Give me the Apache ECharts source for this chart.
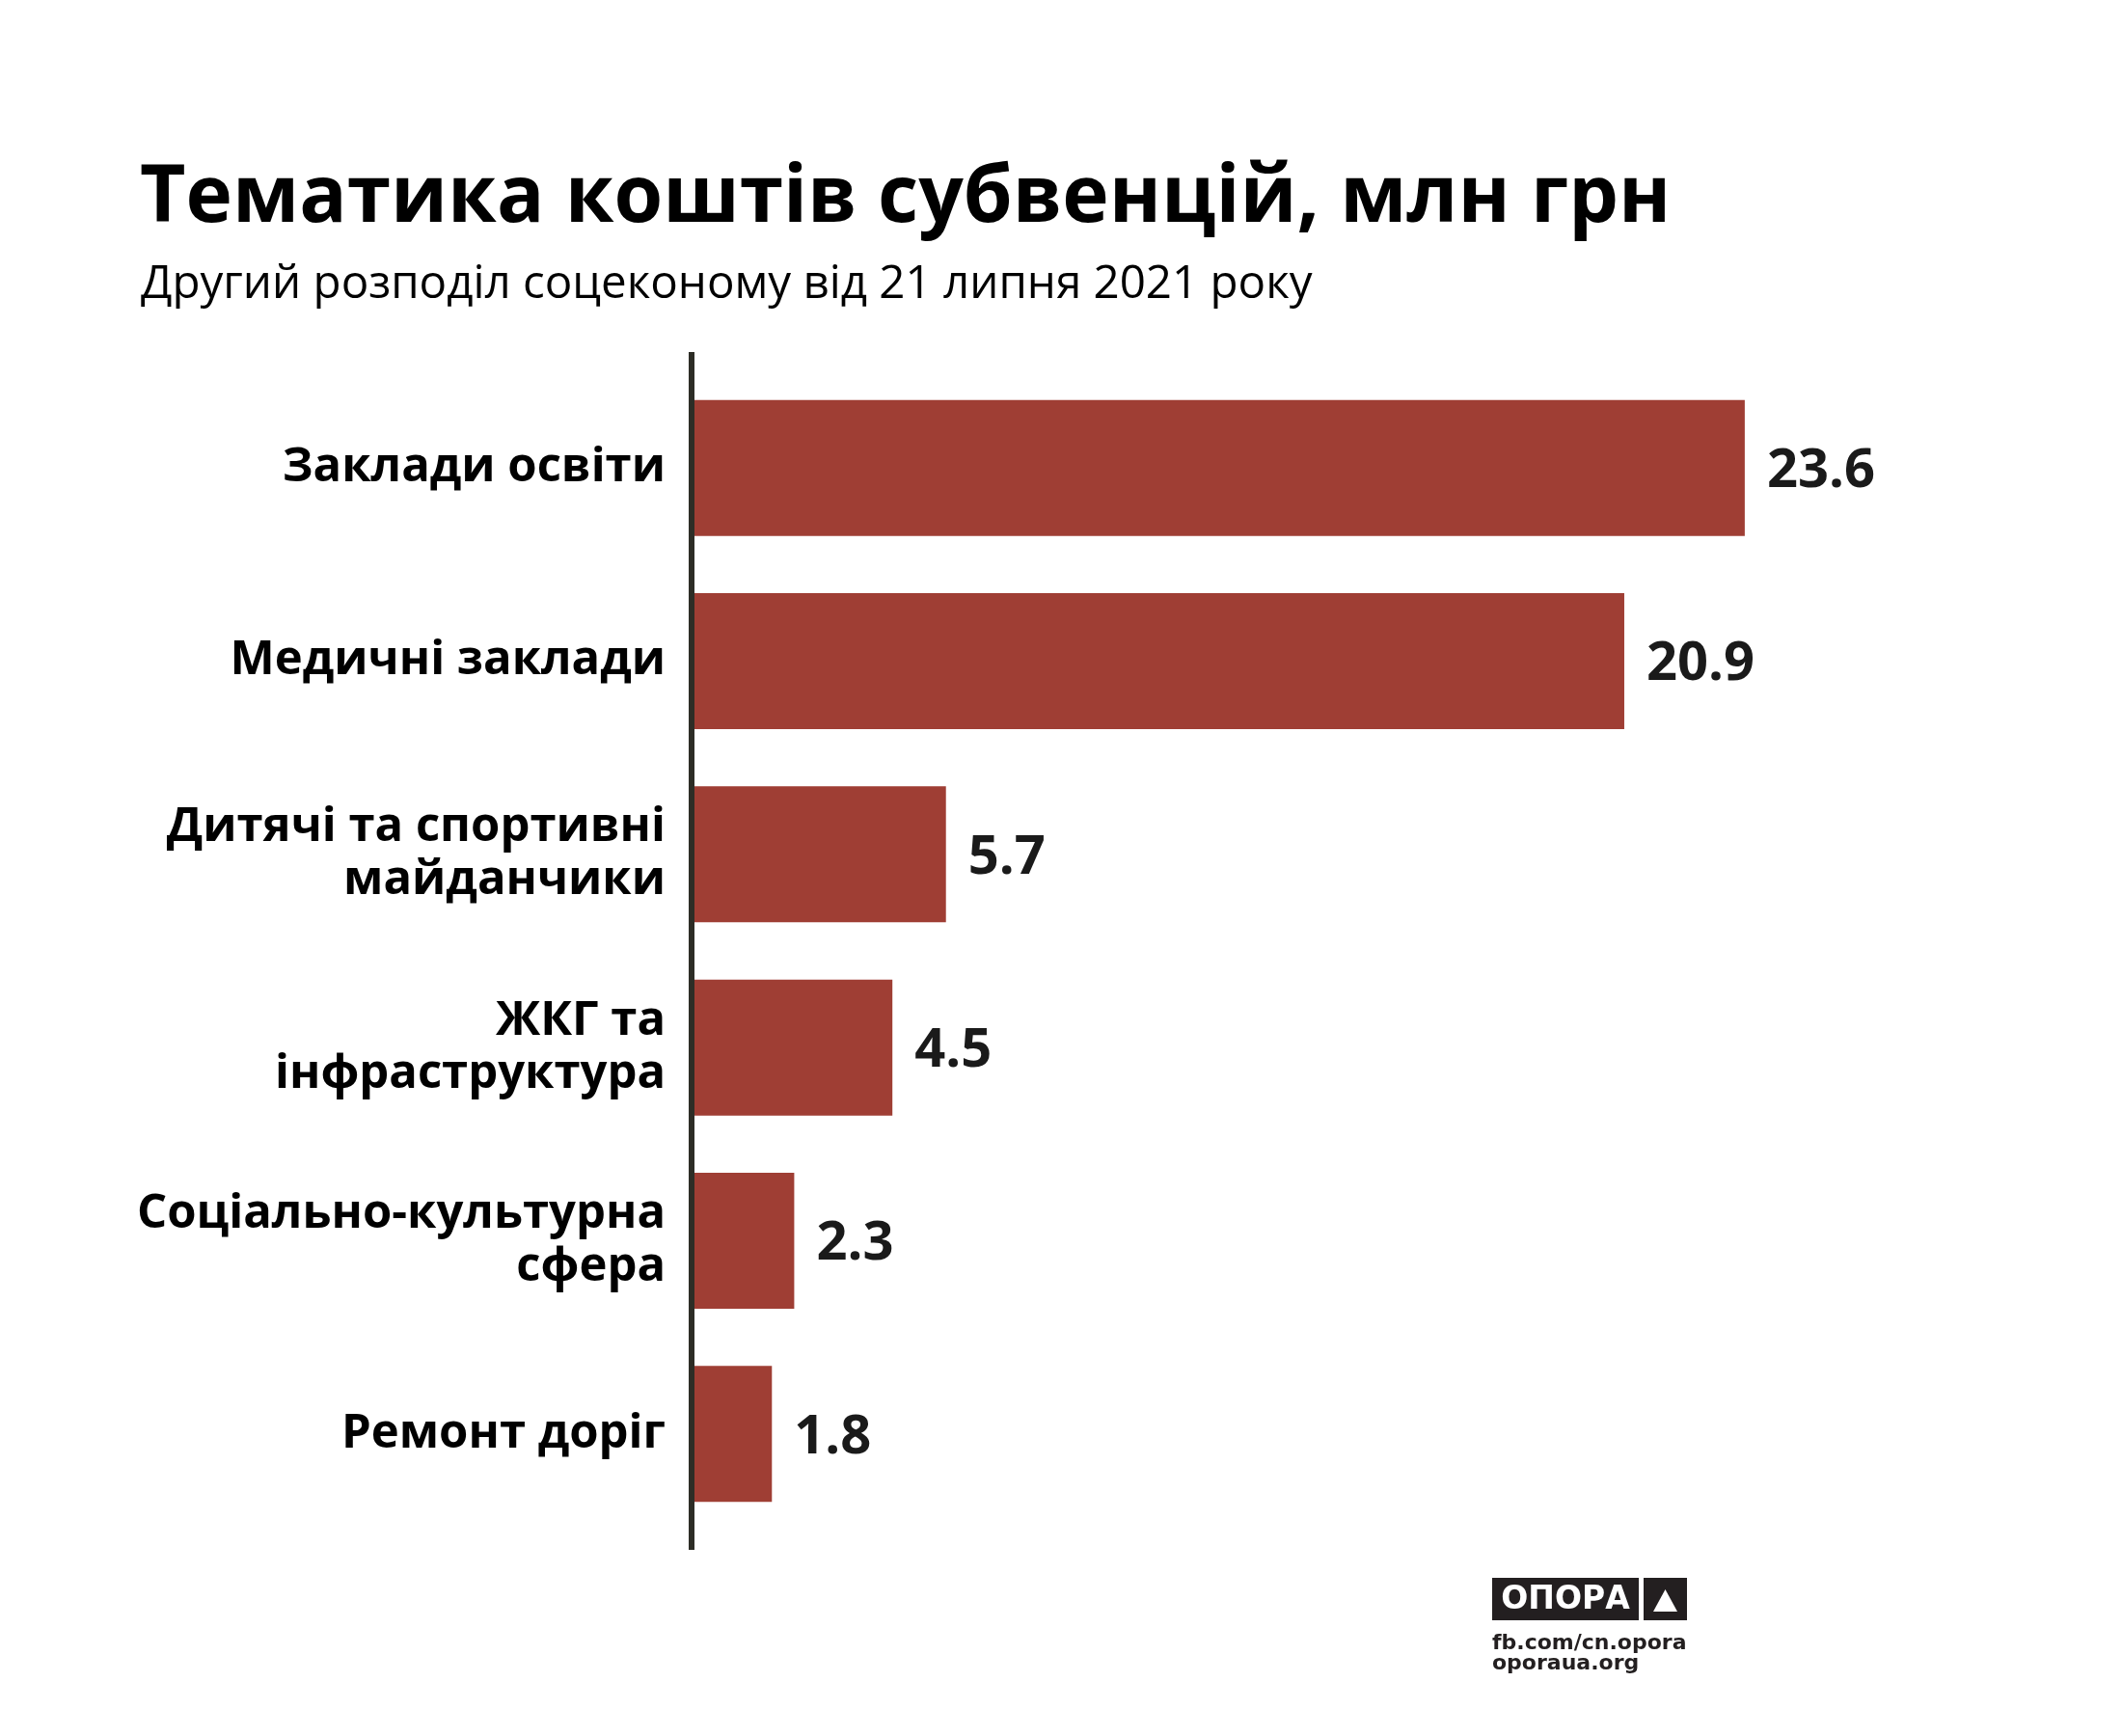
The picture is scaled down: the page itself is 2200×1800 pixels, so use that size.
<!DOCTYPE html>
<html>
<head>
<meta charset="utf-8">
<script src="https://cdn.jsdelivr.net/npm/echarts@6/dist/echarts.min.js"></script>
<style>
  html, body { margin: 0; padding: 0; background: #fff; }
  #chart { width: 2200px; height: 1800px; }
</style>
</head>
<body>
<div id="chart"></div>
<script>
var categories = [
    "Заклади освіти",
    "Медичні заклади",
    "Дитячі та спортивні\nмайданчики",
    "ЖКГ та\nінфраструктура",
    "Соціально-культурна\nсфера",
    "Ремонт доріг"
];
var values = [23.6, 20.9, 5.7, 4.5, 2.3, 1.8];

var titleText = "Тематика коштів субвенцій, млн грн";
var subtitleText = "Другий розподіл соцеконому від 21 липня 2021 року";

var FONT = "Open Sans";
var gridLeft = 717, gridTop = 385, gridHeight = 1202, gridWidth = 1388;

window.onload = function() {
    var chart = echarts.init(document.getElementById("chart"));
    chart.setOption({
        backgroundColor: "#fff",
        animation: false,
        title: [{
            text: titleText,
            left: 140,
            top: 161,
            textStyle: { fontFamily: FONT, fontWeight: "bold", fontSize: 82, color: "#000" }
        }, {
            text: subtitleText,
            left: 141,
            top: 266,
            textStyle: { fontFamily: FONT, fontWeight: "normal", fontSize: 47.5, color: "#000" }
        }],
        grid: { left: gridLeft, top: gridTop, width: gridWidth, height: gridHeight },
        xAxis: {
            type: "value",
            min: 0,
            max: 30,
            show: false
        },
        yAxis: {
            type: "category",
            inverse: true,
            data: categories,
            axisLine: { show: false },
            axisTick: { show: false },
            splitLine: { show: false },
            axisLabel: {
                margin: 27,
                fontFamily: FONT,
                fontWeight: "bold",
                fontSize: 49,
                lineHeight: 55,
                padding: [8, 0, 0, 0],
                color: "#000",
                align: "right"
            }
        },
        series: [{
            type: "bar",
            data: values,
            barCategoryGap: "29.6%",
            itemStyle: { color: "#9f3e34" },
            label: {
                show: true,
                position: "right",
                distance: 23,
                offset: [0, 4],
                fontFamily: FONT,
                fontWeight: "bold",
                fontSize: 56,
                color: "#1a1a1a",
                formatter: function(p) { return p.value.toFixed(1); }
            }
        }],
        graphic: [{
            type: "line",
            z: 100,
            shape: { x1: gridLeft, y1: gridTop - 20, x2: gridLeft, y2: gridTop + gridHeight + 20 },
            style: { stroke: "#2d2d26", lineWidth: 6 }
        }, {
            type: "rect",
            shape: { x: 1547, y: 1636, width: 152, height: 44 },
            style: { fill: "#231f20" }
        }, {
            type: "text",
            x: 1623,
            y: 1659,
            style: {
                text: "ОПОРА",
                fill: "#fff",
                font: "bold 33px 'DejaVu Sans'",
                align: "center",
                verticalAlign: "middle"
            }
        }, {
            type: "rect",
            shape: { x: 1704, y: 1636, width: 45, height: 44 },
            style: { fill: "#231f20" }
        }, {
            type: "polygon",
            shape: { points: [[1714, 1671], [1739, 1671], [1726.5, 1648]] },
            style: { fill: "#fff" }
        }, {
            type: "text",
            x: 1547,
            y: 1715,
            style: {
                text: "fb.com/cn.opora",
                fill: "#231f20",
                font: "bold 22px 'DejaVu Sans'",
                verticalAlign: "bottom"
            }
        }, {
            type: "text",
            x: 1547,
            y: 1736,
            style: {
                text: "oporaua.org",
                fill: "#231f20",
                font: "bold 22px 'DejaVu Sans'",
                verticalAlign: "bottom"
            }
        }]
    });
    window.onresize = function() { chart.resize(); };
};
</script>
</body>
</html>
